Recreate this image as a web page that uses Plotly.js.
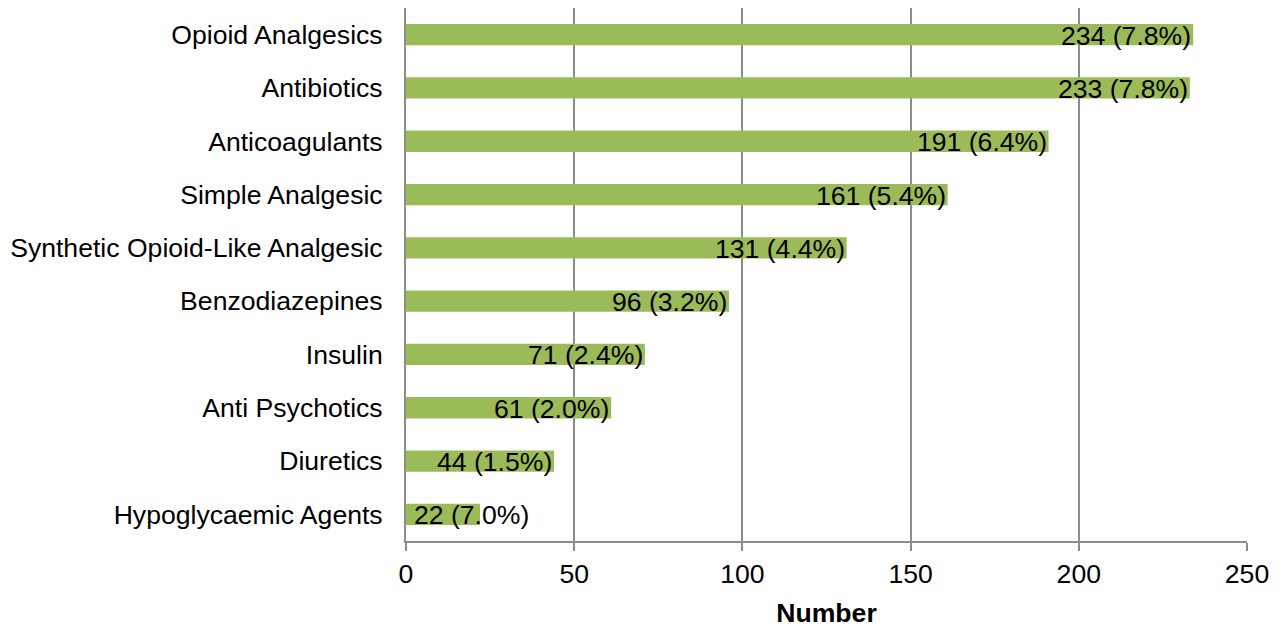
<!DOCTYPE html>
<html>
<head>
<meta charset="utf-8">
<script src="https://cdn.plot.ly/plotly-3.0.1.min.js"></script>
<style>
  html, body { margin: 0; padding: 0; background: #fff; }
  #chart { width: 1284px; height: 628px; }
</style>
</head>
<body>
<div id="chart"></div>
<script>
// Drug classes, ordered from most to least frequent
const categories = [
  "Opioid Analgesics",
  "Antibiotics",
  "Anticoagulants",
  "Simple Analgesic",
  "Synthetic Opioid-Like Analgesic",
  "Benzodiazepines",
  "Insulin",
  "Anti Psychotics",
  "Diuretics",
  "Hypoglycaemic Agents"
];
const counts = [234, 233, 191, 161, 131, 96, 71, 61, 44, 22];
const percents = ["7.8%", "7.8%", "6.4%", "5.4%", "4.4%", "3.2%", "2.4%", "2.0%", "1.5%", "7.0%"];
const xTicks = [0, 50, 100, 150, 200, 250];

const FONT = "Liberation Sans, Arial, Helvetica, sans-serif";
const FS = 26.6;
const GRID = "#8c8c8c";
const BAR = "#9bbb59";

const labels = counts.map((c, i) => `${c} (${percents[i]})`);

// Value labels sit at the inner end of each bar; short bars get theirs from the base
const annotations = counts.map((c, i) => {
  const small = c < 30;
  return {
    x: small ? 0 : c,
    y: categories[i],
    xref: "x", yref: "y",
    text: labels[i],
    showarrow: false,
    xanchor: small ? "left" : "right",
    xshift: small ? 6 : 0,
    yshift: -1,
    font: { family: FONT, size: FS, color: "#000" }
  };
});

const trace = {
  type: "bar",
  orientation: "h",
  x: counts,
  y: categories,
  marker: { color: BAR },
  width: 0.4,
  hoverinfo: "x+y"
};

const layout = {
  width: 1284,
  height: 628,
  margin: { l: 406, r: 37, t: 8, b: 87 },
  paper_bgcolor: "#fff",
  plot_bgcolor: "#fff",
  showlegend: false,
  font: { family: FONT, size: FS, color: "#000" },
  xaxis: {
    range: [0, 250],
    tickvals: xTicks,
    ticktext: xTicks.map(String),
    showgrid: true,
    gridcolor: GRID,
    gridwidth: 2,
    zeroline: false,
    showline: true,
    linecolor: GRID,
    linewidth: 2,
    ticks: "outside",
    ticklen: 8,
    tickwidth: 2,
    tickcolor: GRID,
    tickfont: { family: FONT, size: FS, color: "#000" },
    title: {
      text: "<b>Number</b>",
      font: { family: FONT, size: FS, color: "#000" },
      standoff: 18
    },
    fixedrange: true
  },
  yaxis: {
    type: "category",
    autorange: "reversed",
    showgrid: false,
    zeroline: false,
    showline: true,
    linecolor: GRID,
    linewidth: 2,
    ticks: "outside",
    ticklen: 16,
    tickcolor: "rgba(0,0,0,0)",
    tickfont: { family: FONT, size: FS, color: "#000" },
    fixedrange: true
  },
  annotations: annotations
};

Plotly.newPlot("chart", [trace], layout, { displayModeBar: false, staticPlot: true });
</script>
</body>
</html>
